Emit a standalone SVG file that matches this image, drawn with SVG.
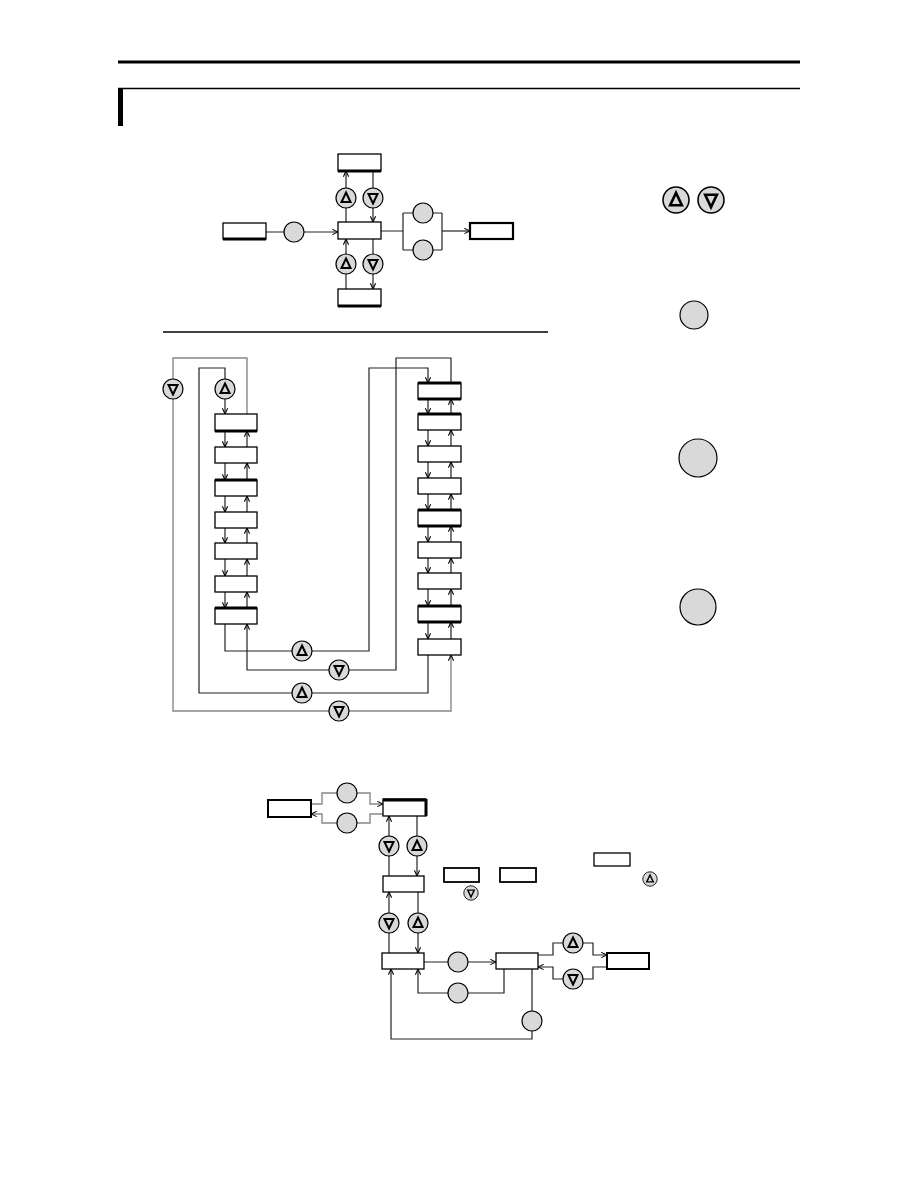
<svg xmlns="http://www.w3.org/2000/svg" xmlns:xlink="http://www.w3.org/1999/xlink" width="918" height="1188" viewBox="0 0 918 1188">
<style>
.bx{fill:#fff;stroke:#000;stroke-width:1.3}
.tk{stroke:#000;stroke-width:3}
.ln{fill:none;stroke:#222;stroke-width:1.2}
.gr{fill:none;stroke:#888;stroke-width:1.4}
.btn{fill:#d9d9d9;stroke:#000;stroke-width:1.2}
.tri{fill:none;stroke:#000;stroke-width:2;stroke-linejoin:miter}
</style>
<defs>
<marker id="a" viewBox="0 0 8 8" markerUnits="userSpaceOnUse" markerWidth="7" markerHeight="7" refX="7.5" refY="4" orient="auto">
<path d="M1,1 L7.5,4 L1,7" fill="none" stroke="#000" stroke-width="1.2"/>
</marker>
<g id="up"><circle class="btn" r="10"/><path class="tri" d="M0,-5.5 L4.5,4 L-4.5,4 Z"/></g>
<g id="dn"><circle class="btn" r="10"/><path class="tri" d="M0,5.5 L4.5,-4 L-4.5,-4 Z"/></g>
<g id="pl"><circle class="btn" r="10"/></g>
</defs>

<g id="header">
<line x1="118" y1="62" x2="800" y2="62" stroke="#000" stroke-width="3"/>
<line x1="118" y1="88.5" x2="800" y2="88.5" stroke="#000" stroke-width="1.3"/>
<rect x="118" y="88" width="5" height="38" fill="#000"/>
<line x1="163" y1="332" x2="548" y2="332" stroke="#000" stroke-width="1.3"/>
</g>

<!-- ============ TOP DIAGRAM ============ -->
<g id="top-connectors">
<path class="ln" d="M266,232 H338" marker-end="url(#a)"/>
<path class="ln" d="M346,222 V171" marker-end="url(#a)"/>
<path class="ln" d="M373,171 V222" marker-end="url(#a)"/>
<path class="ln" d="M346,289 V239" marker-end="url(#a)"/>
<path class="ln" d="M373,239 V289" marker-end="url(#a)"/>
<path class="ln" d="M381,231 H403 M403,213 V250 M403,213 H442 M403,250 H442 M442,213 V250"/>
<path class="ln" d="M442,231 H470" marker-end="url(#a)"/>
</g>
<g id="t-box-top"><rect class="bx" x="338" y="154" width="43" height="17"/><line class="tk" x1="338" y1="171" x2="381" y2="171" stroke-width="2"/></g>
<g id="t-box-center"><rect class="bx" x="338" y="222" width="43" height="17"/></g>
<g id="t-box-bottom"><rect class="bx" x="338" y="289" width="43" height="17"/><line class="tk" x1="338" y1="306" x2="381" y2="306" stroke-width="2"/></g>
<g id="t-box-left"><rect class="bx" x="223" y="223" width="43" height="16"/><line class="tk" x1="223" y1="239" x2="266" y2="239" stroke-width="2"/></g>
<g id="t-box-right"><rect x="470" y="223" width="43" height="16" fill="#fff" stroke="#000" stroke-width="2.2"/></g>
<g id="t-btn-left"><use xlink:href="#pl" x="294" y="232"/></g>
<g id="t-btn-up1"><use xlink:href="#up" x="346" y="198"/></g>
<g id="t-btn-dn1"><use xlink:href="#dn" x="373" y="198"/></g>
<g id="t-btn-up2"><use xlink:href="#up" x="346" y="264"/></g>
<g id="t-btn-dn2"><use xlink:href="#dn" x="373" y="264"/></g>
<g id="t-btn-r1"><use xlink:href="#pl" x="423" y="213"/></g>
<g id="t-btn-r2"><use xlink:href="#pl" x="423" y="250"/></g>

<!-- ============ LEGEND ============ -->
<g id="legend-updown">
<use xlink:href="#up" transform="translate(676,200) scale(1.3)"/>
<use xlink:href="#dn" transform="translate(711,200) scale(1.3)"/>
</g>
<g id="legend-btn1"><circle class="btn" cx="694" cy="315" r="14"/></g>
<g id="legend-btn2"><circle class="btn" cx="698" cy="458" r="19"/></g>
<g id="legend-btn3"><circle class="btn" cx="698" cy="607" r="18"/></g>

<!-- ============ MIDDLE DIAGRAM ============ -->
<g id="mid-connectors">
<path class="ln" d="M225,431 V447" marker-end="url(#a)"/>
<path class="ln" d="M225,463 V480" marker-end="url(#a)"/>
<path class="ln" d="M225,496 V512" marker-end="url(#a)"/>
<path class="ln" d="M225,528 V543" marker-end="url(#a)"/>
<path class="ln" d="M225,559 V576" marker-end="url(#a)"/>
<path class="ln" d="M225,592 V608" marker-end="url(#a)"/>
<path class="ln" d="M247,447 V431" marker-end="url(#a)"/>
<path class="ln" d="M247,480 V463" marker-end="url(#a)"/>
<path class="ln" d="M247,512 V496" marker-end="url(#a)"/>
<path class="ln" d="M247,543 V528" marker-end="url(#a)"/>
<path class="ln" d="M247,576 V559" marker-end="url(#a)"/>
<path class="ln" d="M247,608 V592" marker-end="url(#a)"/>
<path class="ln" d="M428,399 V414" marker-end="url(#a)"/>
<path class="ln" d="M428,430 V446" marker-end="url(#a)"/>
<path class="ln" d="M428,462 V478" marker-end="url(#a)"/>
<path class="ln" d="M428,494 V510" marker-end="url(#a)"/>
<path class="ln" d="M428,526 V542" marker-end="url(#a)"/>
<path class="ln" d="M428,558 V573" marker-end="url(#a)"/>
<path class="ln" d="M428,589 V606" marker-end="url(#a)"/>
<path class="ln" d="M428,622 V639" marker-end="url(#a)"/>
<path class="ln" d="M451,414 V399" marker-end="url(#a)"/>
<path class="ln" d="M451,446 V430" marker-end="url(#a)"/>
<path class="ln" d="M451,478 V462" marker-end="url(#a)"/>
<path class="ln" d="M451,510 V494" marker-end="url(#a)"/>
<path class="ln" d="M451,542 V526" marker-end="url(#a)"/>
<path class="ln" d="M451,573 V558" marker-end="url(#a)"/>
<path class="ln" d="M451,606 V589" marker-end="url(#a)"/>
<path class="ln" d="M451,639 V622" marker-end="url(#a)"/>
<path class="ln" d="M428,655 V693 H199 V368 H225 V414" marker-end="url(#a)"/>
<path class="gr" d="M247,414 V358 H173 V711 H451 V655" marker-end="url(#a)"/>
<path class="ln" d="M225,624 V651 H369 V368 H428 V383" marker-end="url(#a)"/>
<path class="ln" d="M451,383 V358 H396 V670 H247 V624" marker-end="url(#a)"/>
</g>
<g id="m-btn-dn-outer"><use xlink:href="#dn" x="173" y="389"/></g>
<g id="m-btn-up-outer"><use xlink:href="#up" x="225" y="389"/></g>
<g id="m-btn-up-a"><use xlink:href="#up" x="302" y="651"/></g>
<g id="m-btn-dn-a"><use xlink:href="#dn" x="339" y="670"/></g>
<g id="m-btn-up-b"><use xlink:href="#up" x="302" y="693"/></g>
<g id="m-btn-dn-b"><use xlink:href="#dn" x="339" y="711"/></g>

<g id="m-left-1"><rect class="bx" x="215" y="414" width="42" height="17"/><line class="tk" x1="215" y1="431" x2="257" y2="431"/></g>
<g id="m-left-2"><rect class="bx" x="215" y="447" width="42" height="16"/></g>
<g id="m-left-3"><rect class="bx" x="215" y="480" width="42" height="16"/><line class="tk" x1="215" y1="480" x2="257" y2="480"/></g>
<g id="m-left-4"><rect class="bx" x="215" y="512" width="42" height="16"/></g>
<g id="m-left-5"><rect class="bx" x="215" y="543" width="42" height="16"/></g>
<g id="m-left-6"><rect class="bx" x="215" y="576" width="42" height="16"/></g>
<g id="m-left-7"><rect class="bx" x="215" y="608" width="42" height="16"/><line class="tk" x1="215" y1="608" x2="257" y2="608"/></g>

<g id="m-right-1"><rect class="bx" x="418" y="383" width="43" height="16"/><line class="tk" x1="418" y1="383" x2="461" y2="383"/><line class="tk" x1="418" y1="399" x2="461" y2="399"/></g>
<g id="m-right-2"><rect class="bx" x="418" y="414" width="43" height="16"/><line class="tk" x1="418" y1="414" x2="461" y2="414"/></g>
<g id="m-right-3"><rect class="bx" x="418" y="446" width="43" height="16"/></g>
<g id="m-right-4"><rect class="bx" x="418" y="478" width="43" height="16"/></g>
<g id="m-right-5"><rect class="bx" x="418" y="510" width="43" height="16"/><line class="tk" x1="418" y1="510" x2="461" y2="510"/><line class="tk" x1="418" y1="526" x2="461" y2="526"/></g>
<g id="m-right-6"><rect class="bx" x="418" y="542" width="43" height="16"/></g>
<g id="m-right-7"><rect class="bx" x="418" y="573" width="43" height="16"/></g>
<g id="m-right-8"><rect class="bx" x="418" y="606" width="43" height="16"/><line class="tk" x1="418" y1="606" x2="461" y2="606"/><line class="tk" x1="418" y1="622" x2="461" y2="622"/></g>
<g id="m-right-9"><rect class="bx" x="418" y="639" width="43" height="16"/></g>

<!-- ============ BOTTOM DIAGRAM ============ -->
<g id="bot-connectors">
<path class="gr" d="M311,804 H322 V793 H370 V804 H383" marker-end="url(#a)"/>
<path class="gr" d="M383,814 H370 V823 H322 V814 H311" marker-end="url(#a)"/>
<path class="ln" d="M389,876 V816" marker-end="url(#a)"/>
<path class="ln" d="M417,816 V876" marker-end="url(#a)"/>
<path class="ln" d="M389,953 V892" marker-end="url(#a)"/>
<path class="ln" d="M418,892 V953" marker-end="url(#a)"/>
<path class="ln" d="M424,962 H496" marker-end="url(#a)"/>
<path class="ln" d="M504,969 V993 H418 V969" marker-end="url(#a)"/>
<path class="ln" d="M532,969 V1039 H391 V969" marker-end="url(#a)"/>
<path class="ln" d="M538,955 H553 V943 H593 V955 H607" marker-end="url(#a)"/>
<path class="ln" d="M607,967 H593 V979 H553 V967 H538" marker-end="url(#a)"/>
</g>
<g id="b-box-left"><rect x="268" y="800" width="43" height="17" fill="#fff" stroke="#000" stroke-width="2"/></g>
<g id="b-box-a"><rect x="383" y="799" width="43" height="17" fill="#fff" stroke="#000" stroke-width="1.3"/><line class="tk" x1="383" y1="800" x2="426" y2="800" stroke-width="2"/><line class="tk" x1="426" y1="799" x2="426" y2="816" stroke-width="2"/></g>
<g id="b-box-b"><rect class="bx" x="383" y="876" width="41" height="16"/></g>
<g id="b-box-c"><rect class="bx" x="382" y="953" width="42" height="16"/></g>
<g id="b-box-d"><rect class="bx" x="496" y="953" width="42" height="16"/></g>
<g id="b-box-e"><rect x="607" y="953" width="42" height="16" fill="#fff" stroke="#000" stroke-width="2"/></g>
<g id="b-btn-1"><use xlink:href="#pl" x="347" y="793"/></g>
<g id="b-btn-2"><use xlink:href="#pl" x="347" y="823"/></g>
<g id="b-btn-dn1"><use xlink:href="#dn" x="389" y="846"/></g>
<g id="b-btn-up1"><use xlink:href="#up" x="417" y="846"/></g>
<g id="b-btn-dn2"><use xlink:href="#dn" x="389" y="923"/></g>
<g id="b-btn-up2"><use xlink:href="#up" x="418" y="923"/></g>
<g id="b-btn-3"><use xlink:href="#pl" x="458" y="962"/></g>
<g id="b-btn-4"><use xlink:href="#pl" x="458" y="993"/></g>
<g id="b-btn-5"><use xlink:href="#pl" x="532" y="1021"/></g>
<g id="b-btn-up3"><use xlink:href="#up" x="573" y="943"/></g>
<g id="b-btn-dn3"><use xlink:href="#dn" x="573" y="979"/></g>

<g id="note">
<rect x="444" y="868" width="35" height="14" fill="#fff" stroke="#000" stroke-width="1.8"/>
<rect x="500" y="868" width="36" height="14" fill="#fff" stroke="#000" stroke-width="1.8"/>
<rect x="594" y="853" width="36" height="13" fill="#fff" stroke="#000" stroke-width="1.3"/>
<use xlink:href="#up" transform="translate(650,879) scale(0.72)"/>
<use xlink:href="#dn" transform="translate(471,893) scale(0.72)"/>
</g>
</svg>
